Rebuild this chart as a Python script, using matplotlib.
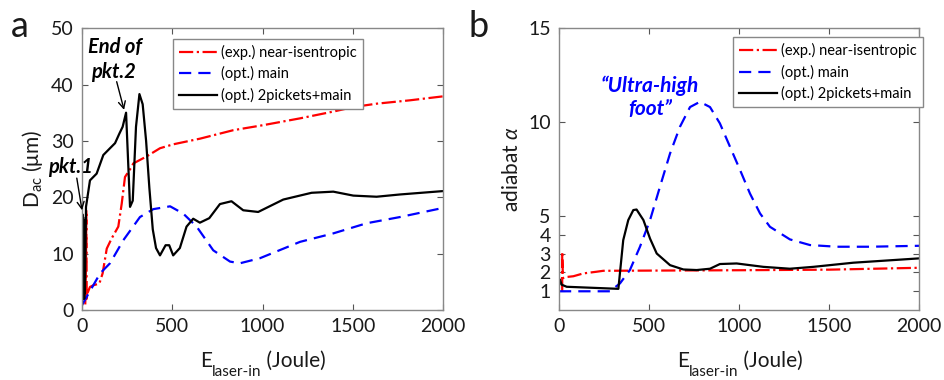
import numpy as np
import matplotlib
matplotlib.use('Agg')
import matplotlib.pyplot as plt

plt.rcParams['font.family'] = ['Lato', 'DejaVu Sans']
plt.rcParams['mathtext.fontset'] = 'custom'
plt.rcParams['mathtext.rm'] = 'Lato'
plt.rcParams['mathtext.it'] = 'Lato:italic'

# ---- panel a: D_ac (um) vs laser energy (J)
a_exp_E = [18, 22, 24, 26, 30, 44, 63, 96, 114, 137, 164, 201, 220, 238, 275, 284, 355, 432,
           506, 654, 838, 1005, 1208, 1392, 1503, 1632, 1817, 2000]
a_exp_D = [1.0, 9.0, 17.7, 2.0, 3.0, 4.1, 4.4, 4.7, 6.5, 10.9, 12.7, 14.8, 18.9, 23.6, 25.4, 26.0,
           27.2, 28.7, 29.4, 30.4, 31.9, 32.8, 34.0, 35.2, 36.0, 36.6, 37.2, 37.9]

a_main_E = [0, 100, 155, 229, 321, 395, 488, 561, 635, 727, 820, 875, 986, 1208, 1392, 1577,
            1762, 1983, 2000]
a_main_D = [0.9, 6.5, 8.3, 12.4, 16.5, 17.9, 18.4, 17.1, 14.8, 10.6, 8.6, 8.3, 9.2, 12.1,
            13.6, 15.4, 16.5, 18.0, 18.1]

a_pk_E = [0, 2, 4, 6, 8, 10, 12, 14, 16, 22, 44, 81, 118, 155, 183, 207, 225, 244, 266, 281,
          299, 318, 336, 355, 373, 392, 410, 432, 463, 483, 505, 542, 579, 616, 653, 705, 764,
          828, 893, 976, 1115, 1272, 1392, 1503, 1632, 1761, 2000]
a_pk_D = [1.0, 17.0, 2.0, 16.5, 2.5, 16.0, 2.0, 15.0, 3.0, 18.3, 23.0, 24.2, 27.5, 28.7, 29.6,
          31.3, 32.5, 35.0, 18.3, 19.4, 32.5, 38.3, 36.5, 30.0, 21.7, 14.3, 11.0, 9.7, 11.5,
          11.5, 9.7, 11.0, 14.8, 16.2, 15.5, 16.3, 18.8, 19.3, 17.7, 17.4, 19.6, 20.8, 21.0,
          20.3, 20.1, 20.5, 21.1]

# ---- panel b: adiabat alpha vs laser energy (J)
b_exp_E = [18, 18, 22, 33, 80, 135, 209, 246, 500, 1000, 1500, 2000]
b_exp_a = [1.0, 3.1, 1.7, 1.75, 1.8, 1.95, 2.04, 2.09, 2.1, 2.12, 2.15, 2.25]

b_main_E = [0, 283, 339, 394, 450, 506, 561, 617, 672, 728, 783, 839, 894, 950, 1006, 1061,
            1117, 1172, 1283, 1394, 1543, 1728, 2000]
b_main_a = [1.0, 1.0, 1.42, 2.13, 3.37, 4.79, 6.56, 8.33, 9.75, 10.8, 11.08, 10.8, 9.93, 8.69,
            7.45, 6.2, 5.14, 4.43, 3.76, 3.46, 3.37, 3.37, 3.42]

b_pk_E = [0, 5, 15, 43, 330, 357, 385, 413, 431, 469, 506, 543, 617, 691, 765, 839, 894, 987,
          1135, 1283, 1413, 1635, 2000]
b_pk_a = [1.3, 1.63, 1.35, 1.24, 1.13, 3.72, 4.79, 5.32, 5.35, 4.79, 3.8, 3.01, 2.39, 2.16,
          2.13, 2.2, 2.45, 2.48, 2.3, 2.2, 2.3, 2.52, 2.75]

labels = ['(exp.) near-isentropic', '(opt.) main', '(opt.) 2pickets+main']

W, H = 945, 380
fig = plt.figure(figsize=(W / 100, H / 100), dpi=100)
ax1 = fig.add_axes([0.0868, 0.184, 0.382, 0.742])
ax2 = fig.add_axes([0.5915, 0.184, 0.381, 0.742])
TXT = '#1a1a1a'


def draw(ax, e1, v1, e2, v2, e3, v3):
    ax.plot(e1, v1, color='red', ls='-.', lw=1.6, label=labels[0])
    ax.plot(e2, v2, color='blue', ls=(0, (5.5, 3.2)), lw=1.6, label=labels[1])
    ax.plot(e3, v3, color='black', ls='-', lw=1.6, label=labels[2])
    ax.set_xlim(0, 2000)
    ax.set_xticks([0, 500, 1000, 1500, 2000])
    ax.tick_params(direction='in', top=True, right=True, labelsize=14, length=4,
                   color='#555555', labelcolor=TXT, pad=6)
    for s in ax.spines.values():
        s.set_color('#888888')
        s.set_linewidth(1.0)
    ax.legend(loc='upper left', fontsize=10.5, frameon=True, fancybox=False,
              edgecolor='#888888', framealpha=1, handlelength=2.6, handletextpad=0.3,
              borderpad=0.4, labelspacing=0.45, borderaxespad=0)


def xlabel(cx_px):
    # "E" with a "laser-in" subscript, then "(Joule)"
    r = fig.canvas.get_renderer()
    parts = [('E', 15, 367), ('laser-in', 11, 376), (' (Joule)', 15, 367)]
    texts = [fig.text(0, (H - y) / H, s, fontsize=f, va='baseline', ha='left', color=TXT)
             for s, f, y in parts]
    widths = [t.get_window_extent(r).width for t in texts]
    x = cx_px - sum(widths) / 2
    for t, w in zip(texts, widths):
        t.set_x(x / W)
        x += w


draw(ax1, a_exp_E, a_exp_D, a_main_E, a_main_D, a_pk_E, a_pk_D)
ax1.set_ylim(0, 50)
ax1.set_yticks([0, 10, 20, 30, 40, 50])
ax1.set_ylabel(r'$\mathrm{D_{ac}}$ (μm)', fontsize=15, color=TXT, labelpad=4)
ax1.get_legend().set_bbox_to_anchor((0.252, 0.962))

draw(ax2, b_exp_E, b_exp_a, b_main_E, b_main_a, b_pk_E, b_pk_a)
ax2.set_ylim(0, 15)
ax2.set_yticks([1, 2, 3, 4, 5, 10, 15])
ax2.set_ylabel(r'adiabat $\alpha$', fontsize=15, color=TXT, labelpad=4)
ax2.get_legend().set_bbox_to_anchor((0.483, 0.968))

xlabel(263)
xlabel(740)

# annotations
bi = dict(fontsize=14.5, fontweight='bold', fontstyle='italic', ha='center', va='center')
arrow = dict(arrowstyle='->, head_length=0.5, head_width=0.25', color='black', lw=1.0,
             shrinkA=0, shrinkB=0)
ax1.text(180, 46.6, 'End of', **bi)
ax1.text(172, 42.2, 'pkt.2', **bi)
ax1.annotate('', xy=(233, 35.5), xytext=(192, 40.5), arrowprops=arrow)
ax1.text(-66, 25.4, 'pkt.1', clip_on=False, **bi)
ax1.annotate('', xy=(0, 17.7), xytext=(-29, 23.4), arrowprops=arrow, annotation_clip=False)
ax2.text(506, 11.3, '\u201cUltra-high\nfoot\u201d', ha='center', va='center', color='blue',
         fontsize=15, fontweight='bold', fontstyle='italic', linespacing=1.2)

fig.text(0.012, 0.93, 'a', fontsize=26, va='center', ha='left', color=TXT)
fig.text(0.496, 0.93, 'b', fontsize=26, va='center', ha='left', color=TXT)

fig.savefig('out.png', dpi=100)
